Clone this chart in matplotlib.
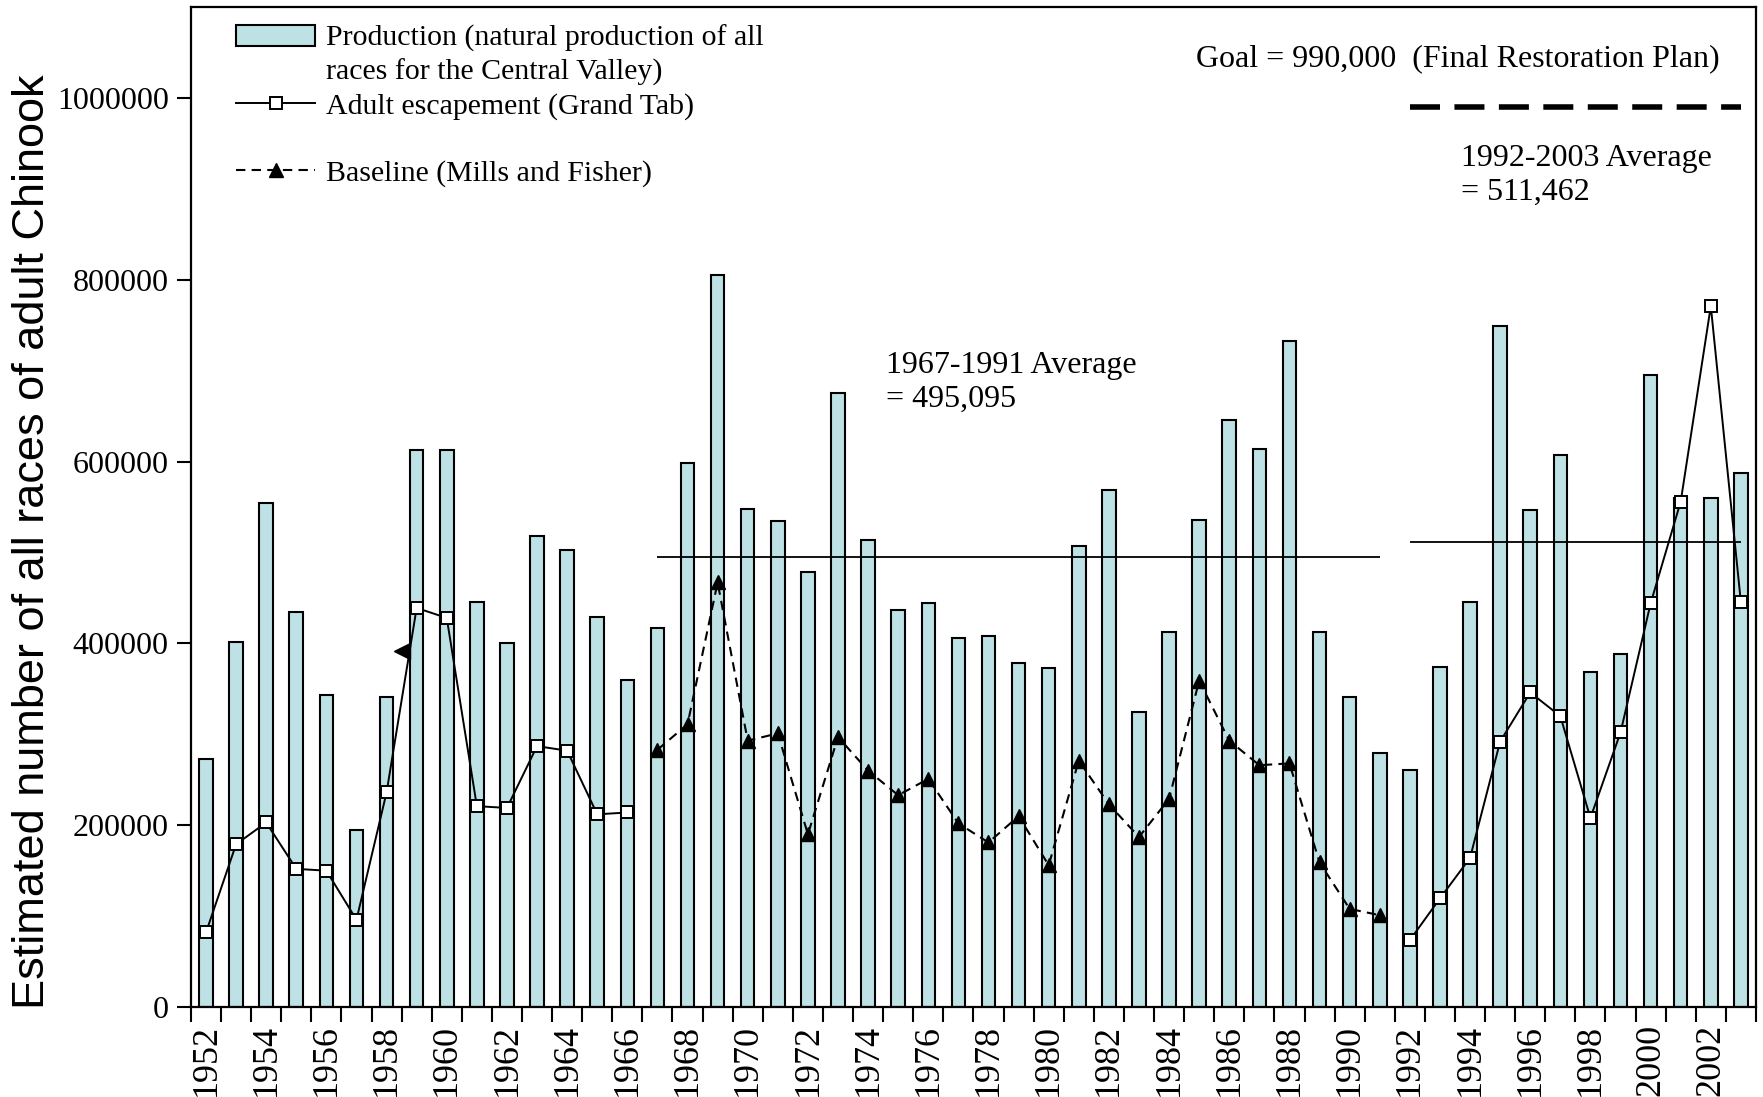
import numpy as np
import matplotlib
matplotlib.use("Agg")
import matplotlib.pyplot as plt
from matplotlib.patches import Patch
from matplotlib.lines import Line2D

plt.rcParams['font.family'] = ['Liberation Serif', 'DejaVu Serif']

# Données
years = list(range(1952, 2004))
production = [
    273000, 402000, 554000, 435000, 343000, 195000, 341000, 613000, 613000, 446000,   # 1952-1961
    400000, 518000, 503000, 429000, 360000, 417000, 598000, 805000, 548000, 535000,   # 1962-1971
    479000, 675000, 514000, 437000, 444000, 406000, 408000, 378000, 373000, 507000,   # 1972-1981
    569000, 324000, 413000, 536000, 646000, 614000, 733000, 413000, 341000, 279000,   # 1982-1991
    261000, 374000, 446000, 749000, 547000, 607000, 369000, 388000, 695000, 560000,   # 1992-2001
    560000, 587000,                                                                   # 2002-2003
]
escapement_early_years = list(range(1952, 1967))
escapement_early = [82000, 179000, 203000, 152000, 150000, 96000, 236000, 439000,
                    428000, 221000, 219000, 287000, 282000, 212000, 214000]
escapement_late_years = list(range(1992, 2004))
escapement_late = [73500, 119500, 164000, 292000, 346000, 320000, 208000, 302000,
                   444000, 556000, 771000, 445000]
baseline_years = list(range(1967, 1992))
baseline = [283000, 311000, 467000, 293000, 301000, 190000, 297000, 260000, 233000,
            251000, 202000, 181000, 210000, 156000, 271000, 223000, 187000, 229000,
            359000, 293000, 266000, 268000, 159000, 108000, 101000]
# triangle isolé près de 1958
stray_x = [1958.5]
stray_y = [392000]

avg_start = [1967, 1992]
avg_end = [1991, 2003]
avg_value = [495095, 511462]
goal_value = 990000

BAR_COLOR = '#bde1e4'
FS_LEG = 21.5
FS_TXT = 23

fig = plt.figure(figsize=(17.63, 10.97), dpi=100)
ax = fig.add_axes([0.1083, 0.082, 0.8877, 0.9116])

# Barres de production
ax.bar(years, production, width=0.45, color=BAR_COLOR, edgecolor='black', linewidth=1.5, zorder=2)

# Moyennes et objectif
ax.hlines(avg_value, avg_start, avg_end, colors='black', linewidth=1.3, zorder=3)
ax.plot([avg_start[1], avg_end[1]], [goal_value, goal_value], color='black', lw=4,
        dashes=(5.4, 2.6), zorder=3)

# Échappement adulte
esc_style = dict(color='black', lw=1.4, marker='s', ms=9, mfc='white', mec='black', mew=1.4, zorder=4)
ax.plot(escapement_early_years, escapement_early, **esc_style)
ax.plot(escapement_late_years, escapement_late, **esc_style)

# Référence Mills et Fisher
ax.plot(baseline_years, baseline, color='black', lw=1.5, dashes=(4.5, 3), marker='^', ms=10,
        mfc='black', mec='black', zorder=4)
ax.plot(stray_x, stray_y, linestyle='none', marker='<', ms=12, color='black', zorder=4)

# Annotations
ax.text(1984.9, 1043000, 'Goal = 990,000  (Final Restoration Plan)', fontsize=FS_TXT, va='center', ha='left')
ax.text(1993.7, 915000, '1992-2003 Average\n= 511,462', fontsize=FS_TXT, va='center', ha='left')
ax.text(1974.6, 687000, '1967-1991 Average\n= 495,095', fontsize=FS_TXT, va='center', ha='left')

# Axes
ax.set_xlim(1951.5, 2003.5)
ax.set_ylim(0, 1100000)
ax.set_yticks(range(0, 1000001, 200000))
ax.set_yticklabels([str(v) for v in range(0, 1000001, 200000)], fontsize=23)
ax.set_xticks(years[::2])
ax.set_xticklabels([str(y) for y in years[::2]], rotation=90, fontsize=26)
ax.set_xticks(np.arange(1951.5, 2004, 1.0), minor=True)
ax.tick_params(axis='x', which='major', length=0, pad=12)
ax.tick_params(axis='x', which='minor', length=11, width=1.5, direction='out')
ax.tick_params(axis='y', length=10, width=1.5, direction='out', pad=6)
for s in ax.spines.values():
    s.set_linewidth(1.6)

ax.set_ylabel('Estimated number of all races of adult Chinook', fontsize=32.5,
              family=['Liberation Sans', 'DejaVu Sans'])
ax.yaxis.set_label_coords(-0.088, 0.465)

# Légende
h_prod = Patch(facecolor=BAR_COLOR, edgecolor='black', lw=1.5)
blank = Line2D([], [], linestyle='none')
h_esc = Line2D([], [], color='black', lw=1.4, marker='s', ms=8, mfc='white', mec='black', mew=1.4)
h_base = Line2D([], [], color='black', lw=1.5, dashes=(4.5, 3), marker='^', ms=10, mfc='black', mec='black')
ax.legend([h_prod, blank, h_esc, blank, h_base],
          ['Production (natural production of all', 'races for the Central Valley)',
           'Adult escapement (Grand Tab)', ' ', 'Baseline (Mills and Fisher)'],
          loc='upper left', bbox_to_anchor=(0.029, 0.982), frameon=False, borderpad=0,
          borderaxespad=0, handlelength=2.65, handletextpad=0.36, labelspacing=0.22, fontsize=FS_LEG)

fig.savefig('out.png', dpi=100)
